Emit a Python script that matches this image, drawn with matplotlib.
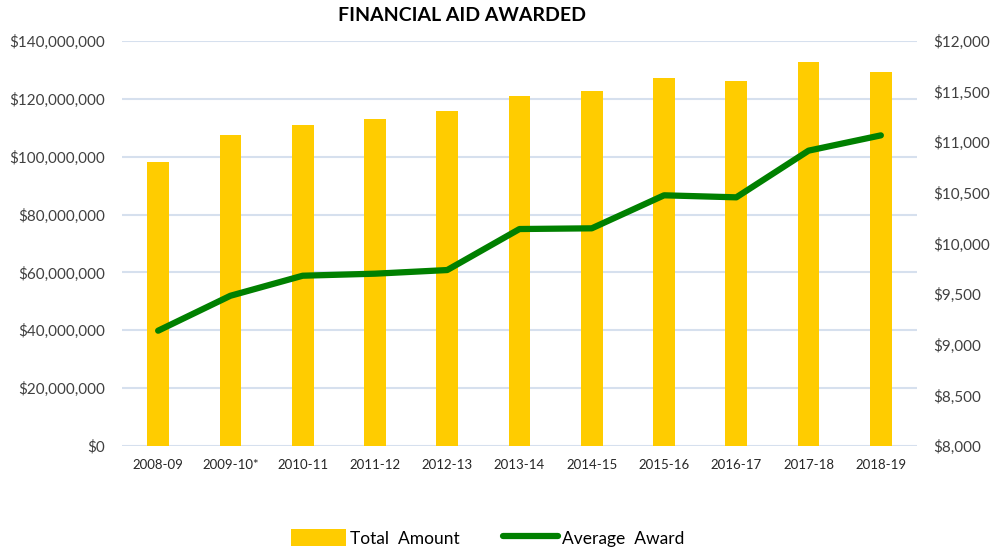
import matplotlib
matplotlib.use('Agg')
import matplotlib.pyplot as plt
from matplotlib.ticker import FuncFormatter

years = ['2008-09', '2009-10*', '2010-11', '2011-12', '2012-13', '2013-14',
         '2014-15', '2015-16', '2016-17', '2017-18', '2018-19']
total_amount = [98.3e6, 107.6e6, 111.0e6, 113.1e6, 115.7e6, 121.1e6,
                122.8e6, 127.1e6, 126.2e6, 132.6e6, 129.3e6]
average_award = [9139, 9484, 9682, 9702, 9738, 10143,
                 10150, 10476, 10456, 10917, 11068]

plt.rcParams['font.family'] = ['Lato', 'DejaVu Sans']

fig = plt.figure(figsize=(9.95, 5.5), dpi=100)
ax = fig.add_axes([0.1226, 0.189, 0.799, 0.7365])
ax2 = ax.twinx()

x = range(len(years))
bars = ax.bar(x, total_amount, width=0.3, color='#FFCC00', label='Total Amount', zorder=2)
line, = ax2.plot(x, average_award, color='#008000', linewidth=4.5,
                 solid_capstyle='round', label='Average Award', zorder=3)

ax.set_ylim(0, 140e6)
ax.set_yticks(range(0, 140000001, 20000000))
ax.yaxis.set_major_formatter(FuncFormatter(lambda v, p: '${:,.0f}'.format(v)))
ax2.set_ylim(8000, 12000)
ax2.set_yticks(range(8000, 12001, 500))
ax2.yaxis.set_major_formatter(FuncFormatter(lambda v, p: '${:,.0f}'.format(v)))
ax.set_xlim(-0.5, len(years) - 0.5)
ax.set_xticks(list(x))
ax.set_xticklabels(years, fontsize=9.5, color='#262626')

ax.grid(axis='y', color='#D6E0EE', linewidth=1.5, zorder=0)
ax.set_axisbelow(True)
for a in (ax, ax2):
    for s in a.spines.values():
        s.set_visible(False)
    a.tick_params(length=0)
ax.tick_params(axis='y', labelsize=11, labelcolor='#404040', pad=12)
ax2.tick_params(axis='y', labelsize=11, labelcolor='#404040', pad=12)
ax.tick_params(axis='x', pad=9)

fig.text(0.464, 0.972, 'FINANCIAL AID AWARDED', ha='center', va='center',
         fontsize=14, fontweight='bold', color='#000000')

fig.legend([bars, line], ['Total  Amount', 'Average  Award'], loc='center',
           bbox_to_anchor=(0.49, 0.022), ncol=2, frameon=False, fontsize=12.5,
           handlelength=3.2, handleheight=1.1, columnspacing=2.5, handletextpad=0.2)

fig.savefig('out.png', dpi=100)
